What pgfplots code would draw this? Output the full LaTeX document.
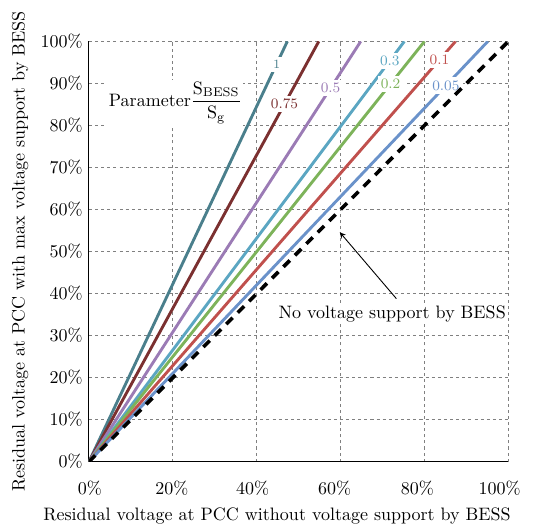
\documentclass[border=0pt]{standalone}
\usepackage{pgfplots}
\pgfplotsset{compat=1.18}
\definecolor{cA}{HTML}{4A7F8C}
\definecolor{cB}{HTML}{7B3030}
\definecolor{cC}{HTML}{9B7BB5}
\definecolor{cD}{HTML}{5BA6C2}
\definecolor{cE}{HTML}{7DB35A}
\definecolor{cF}{HTML}{C0504D}
\definecolor{cG}{HTML}{6A92CA}
\tikzset{lbl/.style={fill=white, inner sep=1.8pt, font=\footnotesize}}
\begin{document}
\begin{tikzpicture}
\begin{axis}[
  scale only axis, width=233pt, height=233.5pt,
  xmin=0, xmax=100, ymin=0, ymax=100,
  xtick={0.2,19.8,39,58.6,78.3,97.9},
  xticklabels={0\%,20\%,40\%,60\%,80\%,100\%},
  minor xtick={20,40,60,80,100},
  ytick={0,10,...,100},
  yticklabel={\pgfmathprintnumber{\tick}\%},
  xticklabel shift=7pt,
  axis x line*=bottom, axis y line*=left,
  axis line style={-, line width=0.6pt},
  major tick length=0pt, minor tick length=0pt,
  xmajorgrids=false, xminorgrids=true, ymajorgrids=true,
  grid style={gray, line width=0.5pt, dash pattern=on 1.7pt off 1.7pt},
  minor grid style={gray, line width=0.5pt, dash pattern=on 1.7pt off 1.7pt},
  xlabel={Residual voltage at PCC without voltage support by BESS},
  xlabel style={xshift=-12pt},
  ylabel={Residual voltage at PCC with max voltage support by BESS},
]
\addplot[cA, line width=1.6pt] coordinates {(0,0) (47.3,100)}
  node[lbl, pos=0.946, text=cA, font=\scriptsize]{1};
\addplot[cB, line width=1.6pt] coordinates {(0,0) (54.8,100)}
  node[lbl, pos=0.851, text=cB]{0.75};
\addplot[cC, line width=1.6pt] coordinates {(0,0) (64.8,100)}
  node[lbl, pos=0.889, text=cC]{0.5};
\addplot[cD, line width=1.6pt] coordinates {(0,0) (75.2,100)}
  node[lbl, pos=0.954, text=cD]{0.3};
\addplot[cE, line width=1.6pt] coordinates {(0,0) (80.0,100)}
  node[lbl, pos=0.899, text=cE]{0.2};
\addplot[cF, line width=1.6pt] coordinates {(0,0) (87.4,100)}
  node[lbl, pos=0.956, text=cF]{0.1};
\addplot[cG, line width=1.6pt] coordinates {(0,0) (95.1,100)}
  node[lbl, pos=0.895, text=cG]{0.05};
\addplot[black, line width=2pt, dash pattern=on 5pt off 4pt] coordinates {(0,0) (100,100)};
\node[fill=white, inner sep=1pt] at (axis cs:20.6,85.4)
  {Parameter$\displaystyle\frac{\mathrm{S_{BESS}}}{\mathrm{S_g}}$};
\node[fill=white, inner sep=1pt] at (axis cs:72.3,35.1) {No voltage support by BESS};
\draw[-stealth, line width=0.5pt] (axis cs:73.3,38.8) -- (axis cs:59.8,54.6);
\end{axis}
\path ([shift={(-49.4pt,-34pt)}]current axis.south west) rectangle ([shift={(248.9pt,256.5pt)}]current axis.south west);
\end{tikzpicture}
\end{document}
